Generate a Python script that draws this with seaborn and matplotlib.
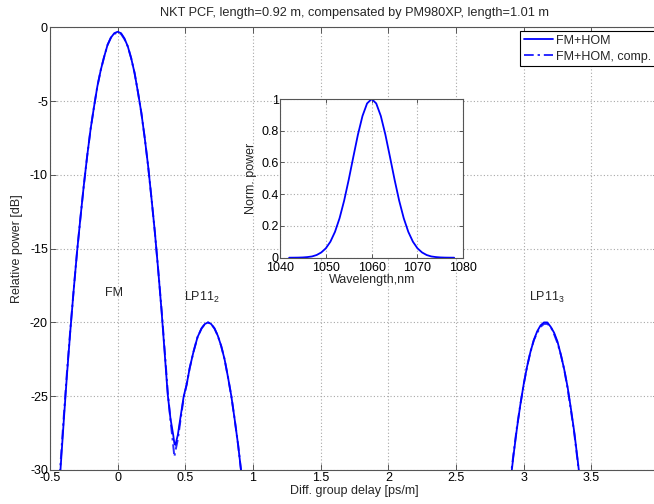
import numpy as np
import pandas as pd
import matplotlib
matplotlib.use("Agg")
import matplotlib.pyplot as plt
import seaborn as sns

# ---------------- data ----------------
title = "NKT PCF, length=0.92 m, compensated by PM980XP, length=1.01 m"
series_names = ["FM+HOM", "FM+HOM, comp."]

# segment 1: FM + LP11_2 (x in ps/m, y in dB)
delay_a = [-0.43, -0.40, -0.375, -0.35, -0.325, -0.30, -0.275, -0.25, -0.225, -0.20,
           -0.175, -0.15, -0.125, -0.10, -0.075, -0.05, -0.025, 0.0, 0.025, 0.05,
           0.075, 0.10, 0.125, 0.15, 0.175, 0.20, 0.225, 0.25, 0.275, 0.30,
           0.325, 0.35, 0.37, 0.39, 0.41, 0.419, 0.427, 0.445, 0.463, 0.488,
           0.51, 0.532, 0.56, 0.59, 0.62, 0.645, 0.668, 0.69, 0.715, 0.74,
           0.765, 0.79, 0.815, 0.84, 0.865, 0.89, 0.915]
power_a = [-31.0, -26.9, -23.6, -20.6, -17.8, -15.2, -12.9, -10.7, -8.7, -6.9,
           -5.4, -4.0, -2.9, -2.0, -1.2, -0.7, -0.4, -0.3, -0.4, -0.75,
           -1.3, -2.1, -3.1, -4.4, -5.8, -7.5, -9.4, -11.6, -13.9, -16.5,
           -19.3, -22.4, -24.9, -26.5, -27.6, -28.2, -28.3, -27.6, -26.5, -25.0,
           -24.2, -23.1, -22.0, -21.0, -20.4, -20.1, -20.0, -20.1, -20.4, -20.9,
           -21.6, -22.5, -23.7, -25.0, -26.6, -28.3, -30.3]
power_a_comp = [-30.6, -26.6, -23.4, -20.5, -17.8, -15.2, -12.9, -10.7, -8.7, -6.9,
                -5.4, -4.0, -2.9, -2.0, -1.2, -0.7, -0.45, -0.35, -0.45, -0.8,
                -1.3, -2.1, -3.1, -4.4, -5.8, -7.5, -9.4, -11.6, -13.9, -16.5,
                -19.2, -22.2, -24.7, -26.6, -28.3, -29.1, -28.7, -27.9, -26.7, -25.1,
                -24.2, -23.1, -22.0, -21.0, -20.4, -20.1, -20.0, -20.1, -20.4, -20.9,
                -21.6, -22.5, -23.7, -25.0, -26.6, -28.3, -30.3]

# segment 2: LP11_3
delay_b = [2.90, 2.925, 2.95, 2.975, 3.0, 3.025, 3.05, 3.075, 3.10, 3.125, 3.15, 3.16,
           3.175, 3.20, 3.225, 3.25, 3.275, 3.30, 3.325, 3.35, 3.375, 3.40, 3.42]
power_b = [-31.0, -29.0, -27.2, -25.6, -24.2, -23.0, -22.0, -21.2, -20.6, -20.2, -20.0, -20.0,
           -20.0, -20.3, -20.7, -21.3, -22.2, -23.2, -24.4, -25.9, -27.5, -29.4, -31.0]
power_b_comp = [-30.8, -28.9, -27.1, -25.6, -24.2, -23.0, -22.0, -21.2, -20.7, -20.3, -20.1, -20.1,
                -20.1, -20.3, -20.8, -21.4, -22.2, -23.2, -24.5, -26.0, -27.6, -29.5, -31.1]

# inset: normalised spectrum
wavelength = [1042, 1043, 1044, 1045, 1046, 1047, 1048, 1049, 1050, 1051, 1052, 1053,
              1054, 1055, 1056, 1057, 1058, 1059, 1060, 1061, 1062, 1063, 1064, 1065,
              1066, 1067, 1068, 1069, 1070, 1071, 1072, 1073, 1074, 1075, 1076, 1077, 1078]
norm_power = [0.0001, 0.0003, 0.0007, 0.0017, 0.004, 0.008, 0.017, 0.033, 0.059, 0.101,
              0.163, 0.249, 0.36, 0.492, 0.635, 0.775, 0.893, 0.972, 1.0, 0.972,
              0.893, 0.775, 0.635, 0.492, 0.36, 0.249, 0.163, 0.101, 0.059, 0.033,
              0.017, 0.008, 0.004, 0.0017, 0.0007, 0.0003, 0.0001]

x_ticks = [-0.5, 0, 0.5, 1, 1.5, 2, 2.5, 3, 3.5, 4]
x_ticklabels = ["-0.5", "0", "0.5", "1", "1.5", "2", "2.5", "3", "3.5", ""]
y_ticks = [0, -5, -10, -15, -20, -25, -30]
inset_x_ticks = [1040, 1050, 1060, 1070, 1080]
inset_y_ticks = [0, 0.2, 0.4, 0.6, 0.8, 1]
inset_y_ticklabels = ["0", "0.2", "0.4", "0.6", "0.8", "1"]

annotations = [("FM", -0.03, -18.0), ("LP11$_2$", 0.62, -18.3), ("LP11$_3$", 3.17, -18.3)]

# ---------------- style ----------------
sns.set_style("white")
plt.rcParams["font.family"] = ["Liberation Sans", "DejaVu Sans"]
plt.rcParams["axes.unicode_minus"] = False
plt.rcParams["mathtext.fontset"] = "custom"
plt.rcParams["mathtext.rm"] = "Liberation Sans"
plt.rcParams["mathtext.it"] = "Liberation Sans"

FS = 9
blue = "#0000ff"
blue_dash = "#2a2aff"
grid_kw = dict(color="#a8a8a8", linestyle=(0, (1, 2)), linewidth=0.8)
dash_pat = (5, 2, 1.2, 2)

fig = plt.figure(figsize=(6.54, 5.04), dpi=100)
ax = fig.add_axes([50 / 654, 1 - 470 / 504, 609 / 654, (470 - 27.3) / 504])

df_a = pd.DataFrame({"x": delay_a, "y": power_a})
df_ac = pd.DataFrame({"x": delay_a, "y": power_a_comp})
df_b = pd.DataFrame({"x": delay_b, "y": power_b})
df_bc = pd.DataFrame({"x": delay_b, "y": power_b_comp})

sns.lineplot(data=df_ac, x="x", y="y", ax=ax, color=blue_dash, lw=1.4,
             sort=False, estimator=None, label=series_names[1])
sns.lineplot(data=df_bc, x="x", y="y", ax=ax, color=blue_dash, lw=1.4,
             sort=False, estimator=None)
sns.lineplot(data=df_a, x="x", y="y", ax=ax, color=blue, lw=1.3,
             sort=False, estimator=None, label=series_names[0])
sns.lineplot(data=df_b, x="x", y="y", ax=ax, color=blue, lw=1.3,
             sort=False, estimator=None)
for ln in ax.lines[:2]:
    ln.set_dashes(dash_pat)

ax.set_xlim(-0.5, 4)
ax.set_ylim(-30, 0)
ax.set_xticks(x_ticks)
ax.set_xticklabels(x_ticklabels)
ax.set_yticks(y_ticks)
ax.set_yticklabels([str(v) for v in y_ticks])
ax.grid(True, **grid_kw)
ax.tick_params(direction="in", length=4, width=0.6, labelsize=FS, pad=1.5,
               colors="#404040", labelcolor="black", top=True, right=True,
               bottom=True, left=True)
for s in ax.spines.values():
    s.set_color("#555555")
    s.set_linewidth(0.8)
ax.set_xlabel("Diff. group delay [ps/m]", fontsize=FS, labelpad=1)
ax.set_ylabel("Relative power [dB]", fontsize=FS, labelpad=5)
ax.set_title(title, fontsize=9.2, pad=8)

for txt, xx, yy in annotations:
    ax.text(xx, yy, txt, fontsize=FS, ha="center", va="center")

h, l = ax.get_legend_handles_labels()
order = [l.index(series_names[0]), l.index(series_names[1])]
leg = ax.legend([h[i] for i in order], [l[i] for i in order], loc="upper right",
                fontsize=FS, frameon=True, fancybox=False, framealpha=1,
                edgecolor="black", borderaxespad=0.3, handlelength=2.3,
                handletextpad=0.3, borderpad=0.3, labelspacing=0.3)
leg.get_frame().set_linewidth(0.8)

# ---------------- inset ----------------
axi = fig.add_axes([280 / 654, 1 - 257.7 / 504, (463.3 - 280) / 654, (257.7 - 99) / 504])
df_i = pd.DataFrame({"wl": wavelength, "p": norm_power})
sns.lineplot(data=df_i, x="wl", y="p", ax=axi, color=blue, lw=1.3, estimator=None)
axi.set_xlim(1040, 1080)
axi.set_ylim(0, 1)
axi.set_xticks(inset_x_ticks)
axi.set_xticklabels([str(v) for v in inset_x_ticks])
axi.set_yticks(inset_y_ticks)
axi.set_yticklabels(inset_y_ticklabels)
axi.grid(True, **grid_kw)
axi.tick_params(direction="in", length=3, width=0.6, labelsize=FS, pad=1,
                colors="#404040", labelcolor="black", top=True, right=True,
                bottom=True, left=True)
axi.tick_params(axis="x", pad=3)
for s in axi.spines.values():
    s.set_color("#555555")
    s.set_linewidth(0.8)
axi.set_xlabel("Wavelength,nm", fontsize=FS, labelpad=0)
axi.set_ylabel("Norm. power", fontsize=FS, labelpad=3)
axi.set_facecolor("white")

fig.savefig("out.png", dpi=100)
